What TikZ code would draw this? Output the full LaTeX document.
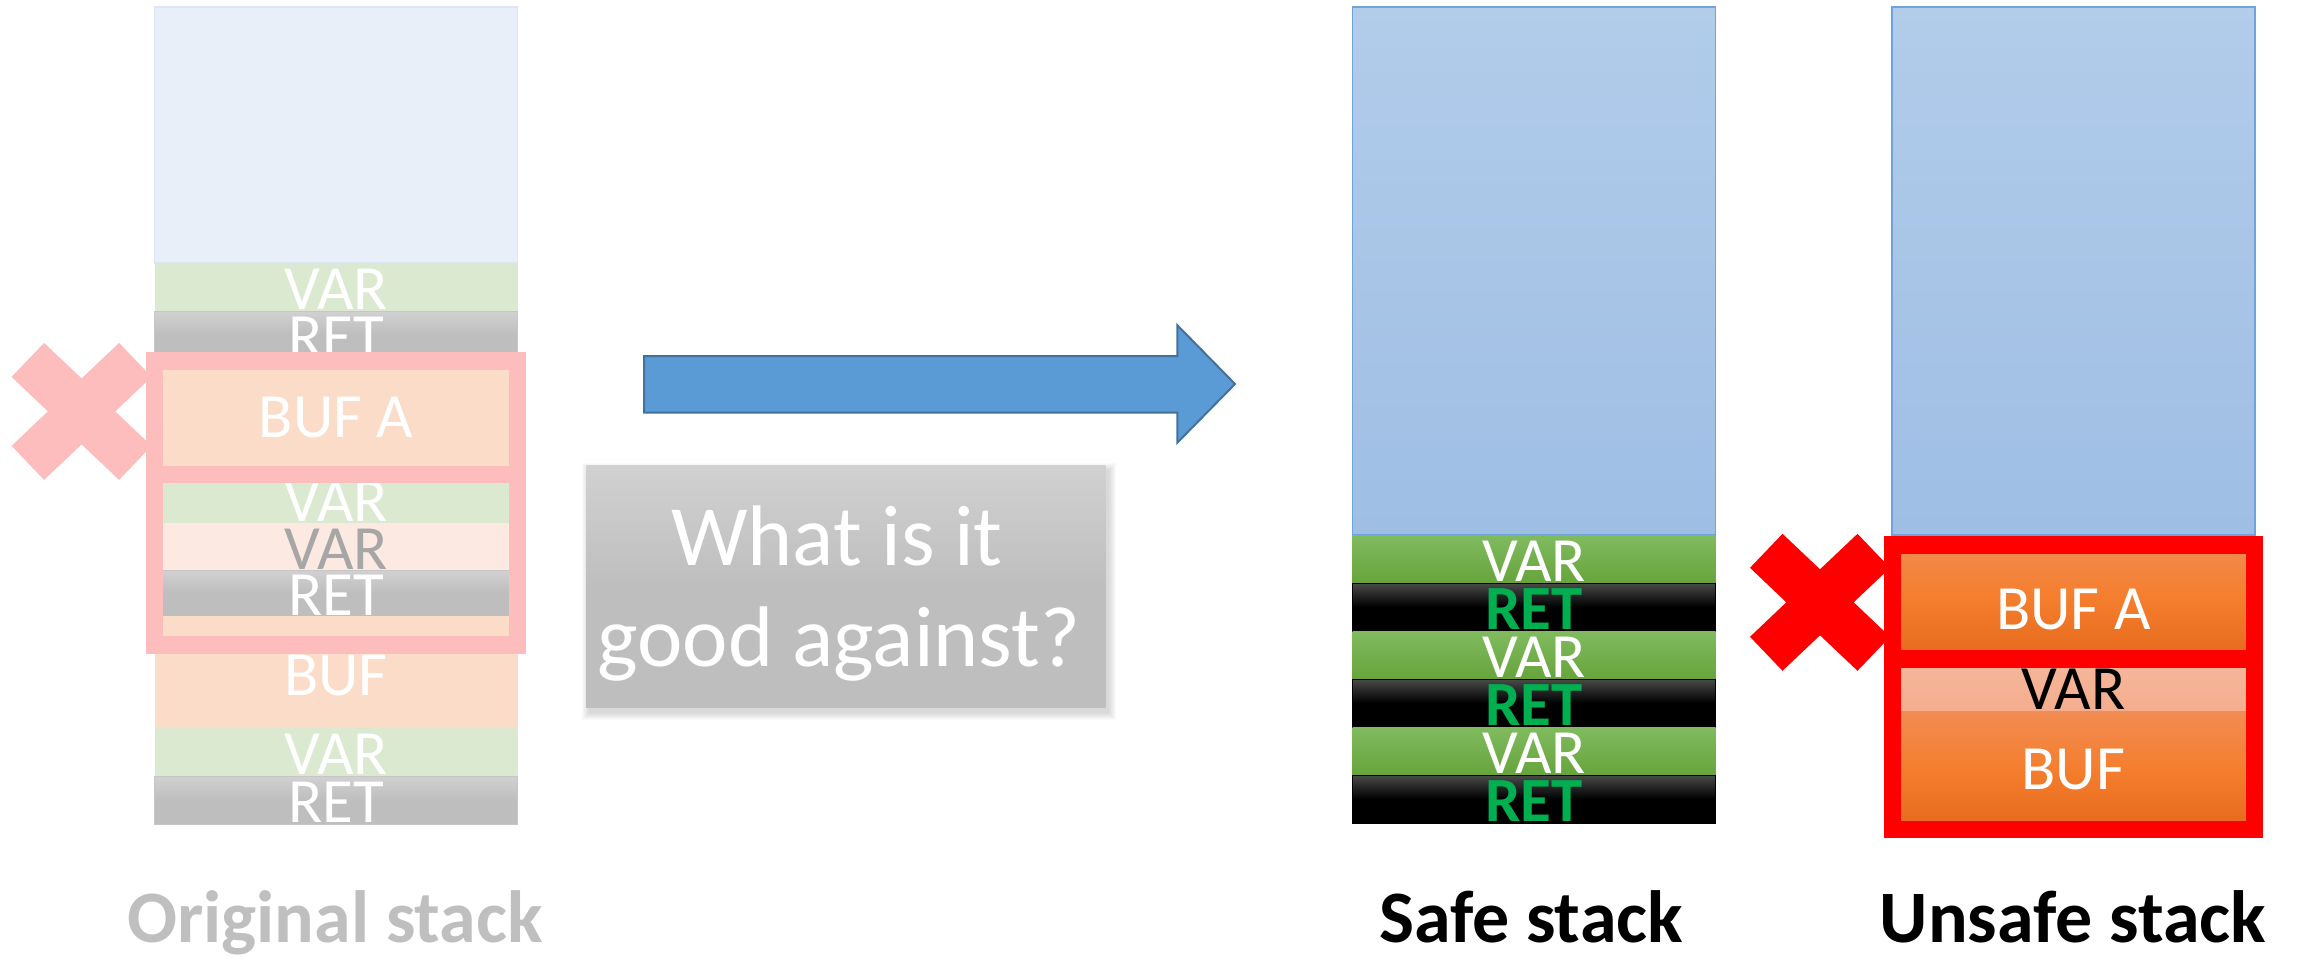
\documentclass[tikz,border=0pt]{standalone}
\usepackage{fontspec}
\setmainfont{Carlito}
\definecolor{otopblue}{HTML}{E8EFF8}
\definecolor{otopedge}{HTML}{DAE6F4}
\definecolor{ogreen}{HTML}{DBE9D0}
\definecolor{ograytop}{HTML}{D1D1D1}
\definecolor{ograybot}{HTML}{BEBEBE}
\definecolor{ograyedge}{HTML}{C6C6C6}
\definecolor{oorange}{HTML}{FADCC8}
\definecolor{opink}{HTML}{FBE9E2}
\definecolor{otextgray}{HTML}{A6A6A6}
\definecolor{pinkred}{HTML}{FDBDBD}
\definecolor{bluetop}{HTML}{B2CCEA}
\definecolor{bluebot}{HTML}{9EBEE4}
\definecolor{blueedge}{HTML}{6FA3DB}
\definecolor{greentop}{HTML}{80BB5F}
\definecolor{greenbot}{HTML}{67A43B}
\definecolor{blacktop}{HTML}{4A4A4A}
\definecolor{retgreen}{HTML}{00B050}
\definecolor{orangetop}{HTML}{F28C53}
\definecolor{orangemid}{HTML}{F47E2D}
\definecolor{orangebot}{HTML}{E6691B}
\definecolor{salmontop}{HTML}{F6B79C}
\definecolor{salmonbot}{HTML}{F4AD8E}
\definecolor{arrowfill}{HTML}{5B9BD5}
\definecolor{arrowedge}{HTML}{41719C}
\definecolor{boxtop}{HTML}{D1D1D1}
\definecolor{boxbot}{HTML}{BEBEBE}
\definecolor{labelgray}{HTML}{BFBFBF}
\newcommand\cellfont{\fontsize{63}{76}\selectfont}
\newcommand\askfont{\fontsize{86}{102}\selectfont}
\newcommand\stackfont{\fontsize{74}{90}\selectfont\bfseries}
\begin{document}
\begin{tikzpicture}[x=1pt,y=-1pt,
  cell/.style={rectangle, inner sep=0pt, minimum width=363pt, text=white,
    font=\cellfont, text height=45pt, text depth=0pt},
  otopcell/.style={cell, fill=otopblue, draw=otopedge, line width=1.5pt},
  ovarcell/.style={cell, fill=ogreen},
  oretcell/.style={cell, top color=ograytop, bottom color=ograybot,
    middle color=ograybot, draw=ograyedge, line width=1pt},
  obufcell/.style={cell, fill=oorange},
  opinkcell/.style={cell, fill=opink, text=otextgray},
  topcell/.style={cell, top color=bluetop, bottom color=bluebot,
    draw=blueedge, line width=1.5pt},
  svarcell/.style={cell, top color=greentop, bottom color=greenbot},
  sretcell/.style={cell, top color=blacktop, bottom color=black,
    middle color=black, draw=black, line width=1pt, text=retgreen,
    font=\cellfont\bfseries},
  ubufcell/.style={cell, top color=orangetop, bottom color=orangebot,
    middle color=orangemid},
  uvarcell/.style={cell, top color=salmontop, bottom color=salmonbot, text=black},
  pinkframe/.style={draw=pinkred, line width=17.5pt},
  redframe/.style={draw=red, line width=17.5pt},
  stacklabel/.style={font=\stackfont, anchor=base, inner sep=0pt},
  asktext/.style={font=\askfont, text=white, anchor=base, inner sep=0pt},
  crossmark/.pic={
    \path[pic actions] (-37.5,-68.5) -- (0,-33) -- (37.5,-68.5) -- (70,-34.5)
      -- (33.7,0) -- (70,34.5) -- (37.5,68.5) -- (0,33) -- (-37.5,68.5)
      -- (-70,34.5) -- (-33.7,0) -- (-70,-34.5) -- cycle;
  }]
\useasboundingbox (0,0) rectangle (2298,959);

% ---- original stack (faded) ----
\node[otopcell, minimum height=256pt] (ot) at (336,135) {};
\node[ovarcell, minimum height=48pt] (ov1) at (336,287) {VAR};
\node[oretcell, minimum height=47pt] (or1) at (336,334.5) {RET};
\node[obufcell, minimum height=117pt, text height=42pt] (oba) at (336,416.5) {BUF A};
\node[ovarcell, minimum height=48pt] (ov2) at (336,499) {VAR};
\node[opinkcell, minimum height=47pt] (ov3) at (336,546.5) {VAR};
\node[oretcell, minimum height=46pt] (or2) at (336,593) {RET};
\node[obufcell, minimum height=112pt, text height=47pt] (ob) at (336,672) {BUF};
\node[ovarcell, minimum height=48pt] (ov4) at (336,752) {VAR};
\node[oretcell, minimum height=48pt] (or3) at (336,800) {RET};

\pic[fill=pinkred] at (81.6,411.4) {crossmark};
\draw[pinkframe] (154.5,361) rectangle (517.5,474.5);
\draw[pinkframe] (154.5,474.5) rectangle (517.5,645);

% ---- transition arrow ----
\filldraw[fill=arrowfill, draw=arrowedge, line width=2pt, line join=miter]
  (644,356) -- (1177.4,356) -- (1177.4,325.3) -- (1235,384)
  -- (1177.4,442.6) -- (1177.4,412.7) -- (644,412.7) -- cycle;

% ---- question box with soft shadow ----
\foreach \d in {1,...,8}
  \fill[black, opacity=0.018] (590-\d,471-\d) rectangle (1108+\d,712+\d);
\node[rectangle, inner sep=0pt, minimum width=519.5pt, minimum height=242.3pt,
  top color=boxtop, bottom color=boxbot, middle color=boxbot] (qbox) at (845.75,586.15) {};
\node[asktext] (q1) at (837,565) {What is it};
\node[asktext] (q2) at (839,666.7) {good against?};

% ---- safe stack ----
\node[topcell, minimum height=528pt] (st) at (1534,271) {};
\node[svarcell, minimum height=48pt] (sv1) at (1534,559) {VAR};
\node[sretcell, minimum height=48pt] (sr1) at (1534,607) {RET};
\node[svarcell, minimum height=48pt] (sv2) at (1534,655) {VAR};
\node[sretcell, minimum height=48pt] (sr2) at (1534,703) {RET};
\node[svarcell, minimum height=48pt] (sv3) at (1534,751) {VAR};
\node[sretcell, minimum height=48pt] (sr3) at (1534,799) {RET};

% ---- unsafe stack ----
\node[topcell, minimum height=528pt] (ut) at (2073.4,271) {};
\node[ubufcell, minimum height=122pt, text height=62pt] (uba) at (2073.4,598) {BUF A};
\node[uvarcell, minimum height=52pt, text height=49.6pt] (uv) at (2073.4,685) {VAR};
\node[ubufcell, minimum height=118pt, text height=39pt] (ub) at (2073.4,770) {BUF};

\pic[fill=red] at (1820,602.3) {crossmark};
\draw[redframe] (1892.4,545) rectangle (2254.4,659);
\draw[redframe] (1892.4,659) rectangle (2254.4,829.5);

% ---- captions ----
\node[stacklabel, text=labelgray] (lo) at (335,942) {Original stack};
\node[stacklabel] (ls) at (1531,942) {Safe stack};
\node[stacklabel] (lu) at (2073,942) {Unsafe stack};
\end{tikzpicture}
\end{document}
